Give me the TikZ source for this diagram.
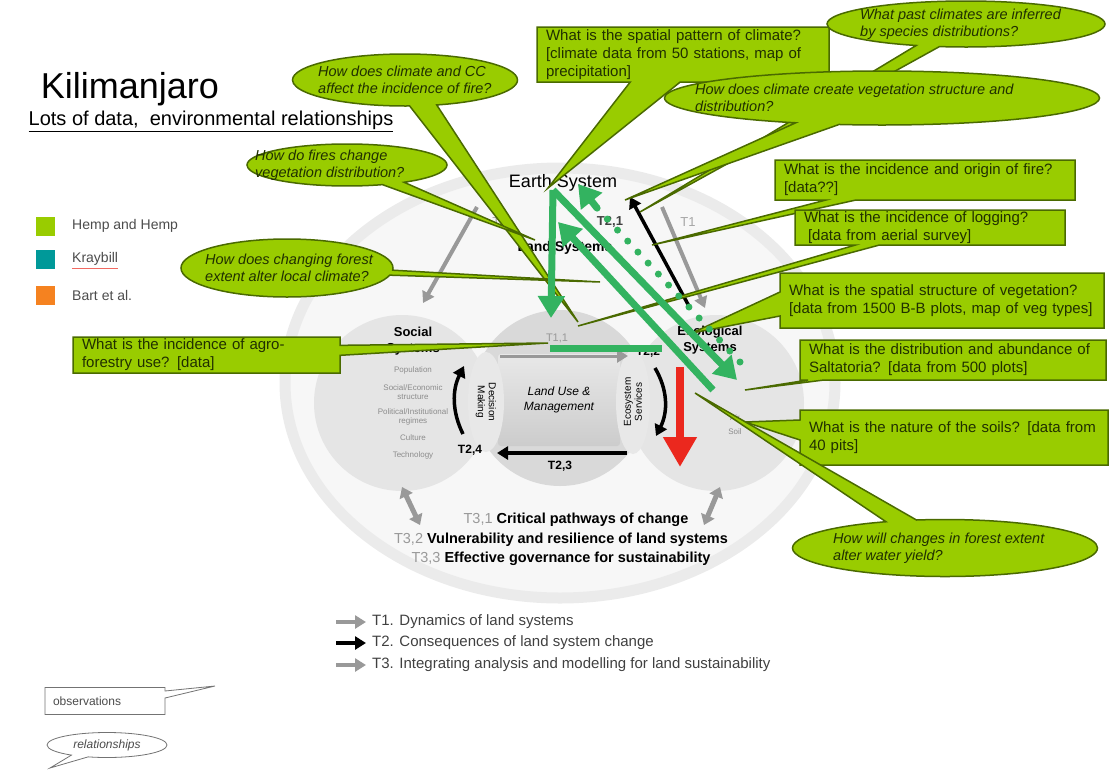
\documentclass[tikz,border=0pt]{standalone}
\usepackage{fontspec}
\setmainfont{Liberation Sans}
\usetikzlibrary{shapes.callouts,shapes.geometric,arrows.meta}
\definecolor{qlime}{RGB}{153,204,0}
\definecolor{qedge}{RGB}{74,106,0}
\definecolor{qtext}{RGB}{32,48,0}
\definecolor{qgreen}{RGB}{51,179,96}
\definecolor{qteal}{RGB}{0,153,153}
\definecolor{qorange}{RGB}{245,130,32}
\definecolor{qred}{RGB}{235,40,30}
\newcommand{\fsz}[2]{\fontsize{#1}{#2}\selectfont}

\begin{document}
\begin{tikzpicture}[x=1pt, y=-1pt,
      every node/.style={inner sep=0pt},
      obs/.style={rectangle callout, fill=qlime, draw=qedge, line width=1.5pt, text=qtext,
        font=\fsz{15}{18}, align=left, inner xsep=9pt, text width=#1},
      rel/.style 2 args={ellipse callout, fill=qlime, draw=qedge, line width=1.5pt,
        minimum width=#1, minimum height=#2},
      reltext/.style={anchor=west, text=qtext, font=\fsz{14.5}{17.5}\itshape, align=left},
      sys/.style={circle, minimum size=176pt},
      systitle/.style={font=\fsz{13}{16}\bfseries, align=center},
      sysitem/.style={font=\fsz{8}{9}, text=black!45, align=center},
      tlabel/.style={font=\fsz{12}{14}\bfseries},
      keytext/.style={anchor=west, font=\fsz{14}{16}, text=black!70},
      legendtext/.style={anchor=west, font=\fsz{15}{17}, text=black!75},
      pathtext/.style={font=\fsz{14.5}{17}\bfseries},
      grayarrow/.style={black!40, line width=4pt, -{Triangle[length=11pt,width=13pt]}},
      blackarrow/.style={black, line width=3.5pt, -{Triangle[length=11pt,width=13pt]}},
      graydouble/.style={black!40, line width=5pt, {Triangle[length=10pt,width=14pt]}-{Triangle[length=10pt,width=14pt]}},
      greenarrow/.style={qgreen, line width=7pt, -{Triangle[length=22pt,width=26pt]}},
      greendots/.style={qgreen, line width=7pt, line cap=round, dash pattern=on 0pt off 15pt}]

      \useasboundingbox (0,0) rectangle (1109,772);

      \node[font=\fsz{36}{42}] (title) at (130,89) {Kilimanjaro};
      \node[font=\fsz{20}{24}] (subtitle) at (211,121) {\underline{Lots of data,\ \ environmental relationships}};

      \node[fill=qlime, minimum size=19pt] (keyhemp) at (45,226) {};
      \node[fill=qteal, minimum size=19pt] (keykray) at (45,259) {};
      \node[fill=qorange, minimum size=19pt] (keybart) at (45,295) {};
      \node[keytext] (hemp) at (72,226) {Hemp and Hemp};
      \node[keytext] (kray) at (72,259) {Kraybill};
      \node[keytext] (bart) at (72,295) {Bart et al.};
      \draw[qred!70, line width=0.7pt] ([yshift=-3pt]kray.south west) -- ([yshift=-3pt]kray.south east);

      \node[ellipse, minimum width=550pt, minimum height=430pt, fill=black!3, draw=black!8, line width=11pt] (earth) at (560,383) {};
      \node[sys, fill=black!10] (social) at (402,403) {};
      \node[sys, fill=black!10] (ecol) at (716,403) {};
      \node[sys, fill=black!15] (landuse) at (560,398) {};
      \node[rounded corners=3pt, top color=black!9, bottom color=black!20, minimum width=122pt, minimum height=92pt] (lum) at (559,400) {};
      \node[ellipse, fill=black!9, minimum width=36pt, minimum height=100pt] (decision) at (486,402) {};
      \node[ellipse, fill=black!9, minimum width=34pt, minimum height=104pt] (ecoserv) at (633,402) {};

      \node[font=\fsz{12}{15}\itshape, align=center] (lumtext) at (lum) {Land Use \&\\Management};
      \node[font=\fsz{10}{11}, align=center, rotate=-90] (dectext) at (decision) {Decision\\Making};
      \node[font=\fsz{10}{11}, align=center, rotate=90] (esstext) at (ecoserv) {Ecosystem\\Services};
      \node[font=\fsz{18}{20}] (earthtext) at (563,183) {Earth System};
      \node[font=\fsz{14}{16}\bfseries] (landsys) at (565,248) {Land Systems};
      \node[systitle] (socialtext) at (413,341) {Social\\Systems};
      \node[systitle] (ecoltext) at (710,340) {Ecological\\Systems};
      \node[sysitem] at (413,370) {Population};
      \node[sysitem] at (413,392) {Social/Economic\\structure};
      \node[sysitem] at (413,417) {Political/Institutional\\regimes};
      \node[sysitem] at (413,438) {Culture};
      \node[sysitem] at (413,455) {Technology};
      \node[sysitem] at (735,418) {Air};
      \node[sysitem] at (735,432) {Soil};

      \node[font=\fsz{13}{15}, text=black!35] (t1left) at (500,222) {T1};
      \node[font=\fsz{13}{15}\bfseries, text=black!75] (t21) at (610,222) {T2,1};
      \node[font=\fsz{13}{15}, text=black!35] (t1right) at (688,222) {T1};
      \node[font=\fsz{11}{13}, text=black!40] (t11) at (557,338) {T1,1};
      \node[tlabel] (t22) at (648,352) {T2,2};
      \node[tlabel] (t24) at (470,450) {T2,4};
      \node[tlabel] (t23) at (560,466) {T2,3};

      \coordinate (landleft) at (477,207);
      \coordinate (socialtop) at (423,303);
      \coordinate (landright) at (662,207);
      \coordinate (ecoltop) at (705,308);
      \coordinate (ecolup) at (690,308);
      \coordinate (earthdown) at (630,197);
      \coordinate (lumleft) at (500,356);
      \coordinate (lumright) at (628,356);
      \coordinate (essout) at (627,453);
      \coordinate (decin) at (497,453);
      \coordinate (redtop) at (680,367);
      \coordinate (redtip) at (680,467);
      \draw[grayarrow] (landleft) -- (socialtop);
      \draw[grayarrow] (landright) -- (ecoltop);
      \draw[grayarrow, line width=3pt] (lumleft) -- (lumright);
      \draw[blackarrow] (ecolup) -- (earthdown);
      \draw[blackarrow, line width=4pt] (essout) -- (decin);
      \draw[blackarrow] (463,434) .. controls (452,412) and (452,390) .. (464,366);
      \draw[blackarrow] (655,368) .. controls (668,390) and (668,412) .. (656,436);
      \draw[qred, line width=8pt, -{Triangle[length=30pt,width=32pt]}] (redtop) -- (redtip);
      \draw[graydouble] (402,487) -- (420,525);
      \draw[graydouble] (720,487) -- (704,525);

      \node[pathtext] (t31) at (576,520) {\textcolor{black!40}{\mdseries T3,1} Critical pathways of change};
      \node[pathtext] (t32) at (561,540) {\textcolor{black!40}{\mdseries T3,2} Vulnerability and resilience of land systems};
      \node[pathtext] (t33) at (561,559) {\textcolor{black!40}{\mdseries T3,3} Effective governance for sustainability};

      \node[legendtext] (keyt1) at (372,622) {T1. Dynamics of land systems};
      \node[legendtext] (keyt2) at (372,643) {T2. Consequences of land system change};
      \node[legendtext] (keyt3) at (372,665) {T3. Integrating analysis and modelling for land sustainability};
      \draw[grayarrow] ([xshift=-36pt]keyt1.west) -- ([xshift=-6pt]keyt1.west);
      \draw[blackarrow, line width=4pt] ([xshift=-36pt]keyt2.west) -- ([xshift=-6pt]keyt2.west);
      \draw[grayarrow] ([xshift=-36pt]keyt3.west) -- ([xshift=-6pt]keyt3.west);

      \coordinate (landfire) at (578,322);
      \coordinate (landveg) at (535,240);
      \coordinate (landclim) at (600,282);
      \coordinate (landagro) at (548,343);
      \coordinate (earthclim) at (548,188);
      \coordinate (earthpast) at (640,212);
      \coordinate (earthveg) at (625,200);
      \coordinate (ecolfire) at (652,245);
      \coordinate (landlog) at (578,326);
      \coordinate (ecolveg) at (692,333);
      \coordinate (ecolsalt) at (745,390);
      \coordinate (ecolsoil) at (745,422);
      \coordinate (ecolwater) at (695,393);

      \node[rel={225pt}{52pt}, callout absolute pointer={(landfire)}, callout pointer arc=14] (qfire) at (405,80) {};
      \node[reltext] at (318,80) {How does climate and CC\\affect the incidence of fire?};
      \node[rel={200pt}{42pt}, callout absolute pointer={(landveg)}, callout pointer arc=14] (qfires) at (347,165) {};
      \node[reltext] at (255,165) {How do fires change\\vegetation distribution?};
      \node[rel={212pt}{58pt}, callout absolute pointer={(landclim)}, callout pointer arc=10] (qforest) at (287,268) {};
      \node[reltext] at (205,268) {How does changing forest\\extent alter local climate?};
      \node[obs=249pt, minimum height=36pt, callout absolute pointer={(landagro)}, callout pointer width=10pt] (qagro) at (206.5,355)
        {What is the incidence of agro-\\forestry use? [data]};
      \node[obs=274pt, minimum height=55pt, callout absolute pointer={(earthclim)}, callout pointer width=50pt] (qclimate) at (683,54.5)
        {What is the spatial pattern of climate?\\{}[climate data from 50 stations, map of\\precipitation]};
      \node[rel={278pt}{46pt}, callout absolute pointer={(earthpast)}, callout pointer arc=10] (qpast) at (966,24) {};
      \node[reltext] at (860,24) {What past climates are inferred\\by species distributions?};
      \node[rel={435pt}{54pt}, callout absolute pointer={(earthveg)}, callout pointer arc=12] (qstruct) at (882,98) {};
      \node[reltext] at (695,98) {How does climate create vegetation structure and\\distribution?};
      \node[obs=282pt, minimum height=40pt, callout absolute pointer={(ecolfire)}, callout pointer width=30pt] (qorigin) at (925,180)
        {What is the incidence and origin of fire?\\{}[data??]};
      \node[obs=252pt, minimum height=35pt, callout absolute pointer={(landlog)}, callout pointer width=24pt] (qlog) at (930,227.5)
        {What is the incidence of logging?\\\hspace*{4pt}[data from aerial survey]};
      \node[obs=306pt, minimum height=55pt, callout absolute pointer={(ecolveg)}, callout pointer width=24pt] (qspatial) at (942,300.5)
        {What is the spatial structure of vegetation?\\{}[data from 1500 B-B plots, map of veg types]};
      \node[obs=288pt, minimum height=40pt, callout absolute pointer={(ecolsalt)}, callout pointer width=16pt] (qsalt) at (953,360)
        {What is the distribution and abundance of\\Saltatoria? [data from 500 plots]};
      \node[obs=290pt, minimum height=55pt, callout absolute pointer={(ecolsoil)}, callout pointer width=20pt] (qsoil) at (954,437.5)
        {What is the nature of the soils? [data from\\40 pits]};
      \node[rel={305pt}{57pt}, callout absolute pointer={(ecolwater)}, callout pointer arc=12] (qwater) at (945,548) {};
      \node[reltext] at (833,548) {How will changes in forest extent\\alter water yield?};

      \coordinate (gtop) at (553,190);
      \coordinate (gdown) at (551,318);
      \coordinate (gcorner) at (550,348);
      \coordinate (gmid) at (662,348);
      \coordinate (gtip) at (737,380);
      \coordinate (gback) at (713,390);
      \coordinate (gup) at (558,222);
      \coordinate (dotstart) at (740,362);
      \coordinate (dotmid) at (597,208);
      \coordinate (dotend) at (578,184);
      \draw[greenarrow] (gtop) -- (gdown);
      \draw[qgreen, line width=7pt] (gcorner) -- (gmid);
      \draw[greenarrow] (gtop) -- (gtip);
      \draw[greenarrow] (gback) -- (gup);
      \draw[greendots] (dotstart) -- (dotmid);
      \draw[greenarrow] (dotmid) -- (dotend);

      \coordinate (obspoint) at (215,686);
      \coordinate (relpoint) at (50,768);
      \node[rectangle callout, draw=black!55, fill=white, line width=0.8pt, text width=104pt, inner xsep=8pt, minimum height=27pt,
        font=\fsz{12}{14}, text=black!70, callout absolute pointer={(obspoint)}, callout pointer width=7pt] (keyobs) at (105,701) {observations};
      \node[ellipse callout, draw=black!55, fill=white, line width=0.8pt, minimum width=120pt, minimum height=25pt,
        font=\fsz{12}{14}\itshape, text=black!70, callout absolute pointer={(relpoint)}, callout pointer arc=18] (keyrel) at (107,745) {relationships};
\end{tikzpicture}
\end{document}
